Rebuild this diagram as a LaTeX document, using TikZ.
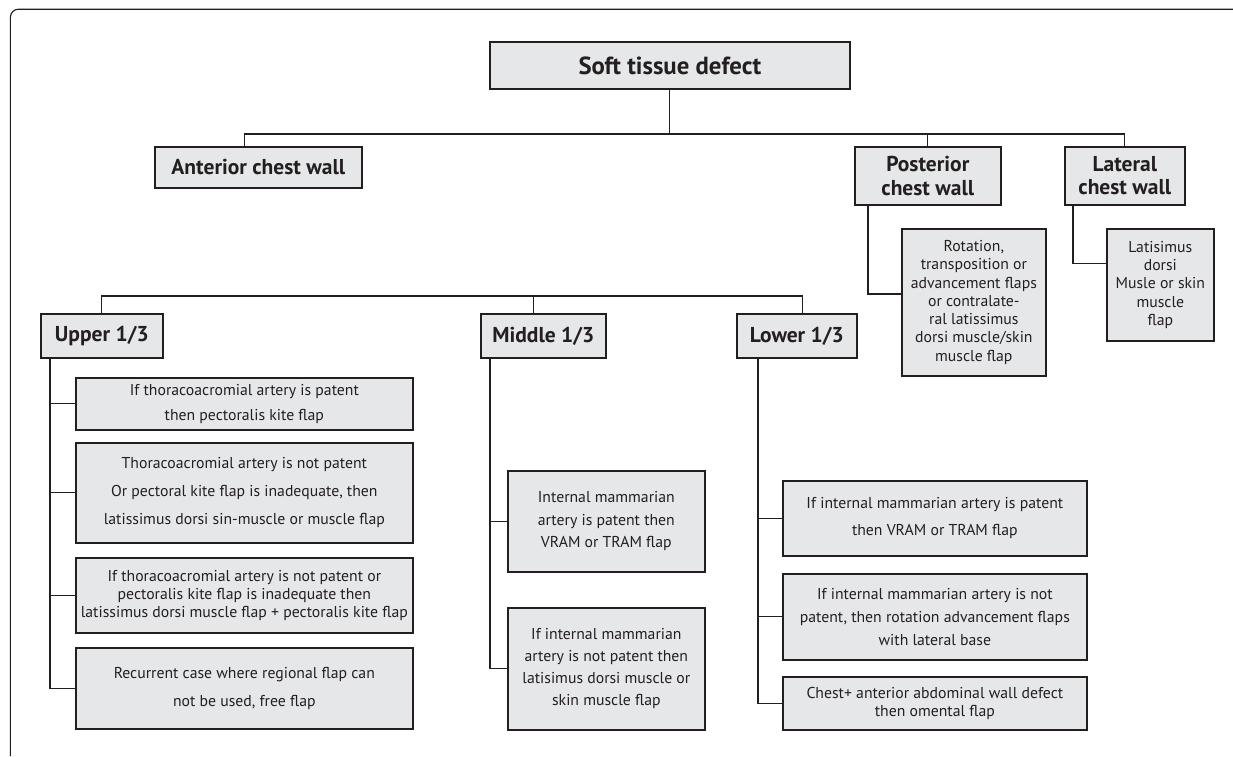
\documentclass[tikz,border=0pt]{standalone}
\usepackage{fontspec}
\setmainfont{PT Sans}
\usepackage{tikz}
\definecolor{boxgray}{RGB}{230,231,232}
\definecolor{inkdark}{RGB}{35,31,32}
\tikzset{
 box/.style={draw=inkdark,line width=1.2pt,fill=boxgray,anchor=north west,inner sep=0pt,align=center,text=inkdark,font=\fontsize{11.2}{13}\selectfont},
 head/.style={box,font=\bfseries\fontsize{15.3}{16.6}\selectfont},
 link/.style={draw=inkdark,line width=0.9pt},
}

\begin{document}
\begin{tikzpicture}
 \useasboundingbox (0,0) rectangle (30.825,-18.9);
 \draw[inkdark,line width=0.8pt,rounded corners=0.2cm] (0.26,-18.9) -- (0.26,-0.23) -- (30.825,-0.23);

 \node[head,minimum width=9cm,minimum height=1.175cm,font=\bfseries\fontsize{17.6}{20}\selectfont] (root) at (12.225,-1.025) {Soft tissue defect};
 \node[head,minimum width=5.175cm,minimum height=1.025cm] (ant) at (3.85,-3.65) {Anterior chest wall};
 \node[head,minimum width=3.65cm,minimum height=1.45cm] (post) at (21.35,-3.65) {Posterior\\chest wall};
 \node[head,minimum width=3cm,minimum height=1.45cm] (lat) at (26.6,-3.65) {Lateral\\chest wall};
 \node[box,minimum width=3.6cm,minimum height=3.675cm] (postsub) at (22.525,-5.7) {Rotation,\\transposition or\\advancement flaps\\or contralate-\\ral latissimus\\dorsi muscle/skin\\muscle flap};
 \node[box,minimum width=2.675cm,minimum height=2.8cm] (latsub) at (27.65,-5.7) {Latisimus\\dorsi\\Musle or skin\\muscle\\flap};

 \node[head,minimum width=3.05cm,minimum height=1.1cm] (up) at (1.0,-7.825) {Upper 1/3};
 \node[head,minimum width=3.125cm,minimum height=1.1cm] (mid) at (12.0,-7.825) {Middle 1/3};
 \node[head,minimum width=3cm,minimum height=1.1cm] (low) at (18.4,-7.825) {Lower 1/3};

 \node[box,minimum width=8.425cm,minimum height=1.3cm] (u1) at (1.875,-9.425) {If thoracoacromial artery is patent\\[4.8pt]then pectoralis kite flap};
 \node[box,minimum width=8.425cm,minimum height=2.5cm] (u2) at (1.875,-11.05) {Thoracoacromial artery is not patent\\[6.9pt]Or pectoral kite flap is inadequate, then\\[6.9pt]latissimus dorsi sin-muscle or muscle flap};
 \node[box,minimum width=8.425cm,minimum height=1.875cm] (u3) at (1.875,-13.925) {If thoracoacromial artery is not patent or\\pectoralis kite flap is inadequate then\\latissimus dorsi muscle flap + pectoralis kite flap};
 \node[box,minimum width=8.425cm,minimum height=2.025cm] (u4) at (1.875,-16.175) {Recurrent case where regional flap can\\[6.9pt]not be used, free flap};

 \node[box,minimum width=4.925cm,minimum height=2.525cm] (m1) at (12.675,-11.75) {Internal mammarian\\[3.1pt]artery is patent then\\[3.1pt]VRAM or TRAM flap};
 \node[box,minimum width=4.925cm,minimum height=3.05cm] (m2) at (12.675,-15.175) {If internal mammarian\\[2.6pt]artery is not patent then\\[2.6pt]latisimus dorsi muscle or\\[2.6pt]skin muscle flap};

 \node[box,minimum width=7.6cm,minimum height=1.875cm] (l1) at (19.55,-12.0) {If internal mammarian artery is patent\\[6pt]then VRAM or TRAM flap};
 \node[box,minimum width=7.6cm,minimum height=2.15cm] (l2) at (19.55,-14.325) {If internal mammarian artery is not\\[3.4pt]patent, then rotation advancement flaps\\[3.4pt]with lateral base};
 \node[box,minimum width=7.6cm,minimum height=1.325cm] (l3) at (19.55,-16.9) {Chest+ anterior abdominal wall defect\\then omental flap};

 \coordinate (bus) at (0,-3.35);
 \coordinate (midbus) at (0,-7.4);
 \draw[link] (root.south) -- (root.south |- bus);
 \draw[link] ([xshift=-0.35cm]ant.north) |- (lat.north |- bus) -- (lat.north);
 \draw[link] (post.north) -- (post.north |- bus);
 \draw[link] (up.north) |- ([xshift=0.15cm]low.north |- midbus) -- ([xshift=0.15cm]low.north);
 \draw[link] ([xshift=-0.24cm]mid.north) -- ([xshift=-0.24cm]mid.north |- midbus);

 \coordinate (postt) at ([xshift=0.35cm]post.south west);
 \coordinate (latt) at ([xshift=0.225cm]lat.south west);
 \draw[link] (postt) |- ([yshift=0.21cm]postsub.west);
 \draw[link] (latt) |- ([yshift=0.525cm]latsub.west);

 \coordinate (upt) at ([xshift=0.25cm]up.south west);
 \coordinate (midt) at ([xshift=0.25cm]mid.south west);
 \coordinate (lowt) at ([xshift=0.55cm]low.south west);
 \draw[link] (upt) |- (u4.west);
 \foreach \b in {u1,u2,u3} \draw[link] (\b.west) -- (\b.west -| upt);
 \draw[link] (midt) |- (m2.west);
 \draw[link] (m1.west) -- (m1.west -| midt);
 \draw[link] (lowt) |- (l3.west);
 \foreach \b in {l1,l2} \draw[link] (\b.west) -- (\b.west -| lowt);
\end{tikzpicture}
\end{document}
